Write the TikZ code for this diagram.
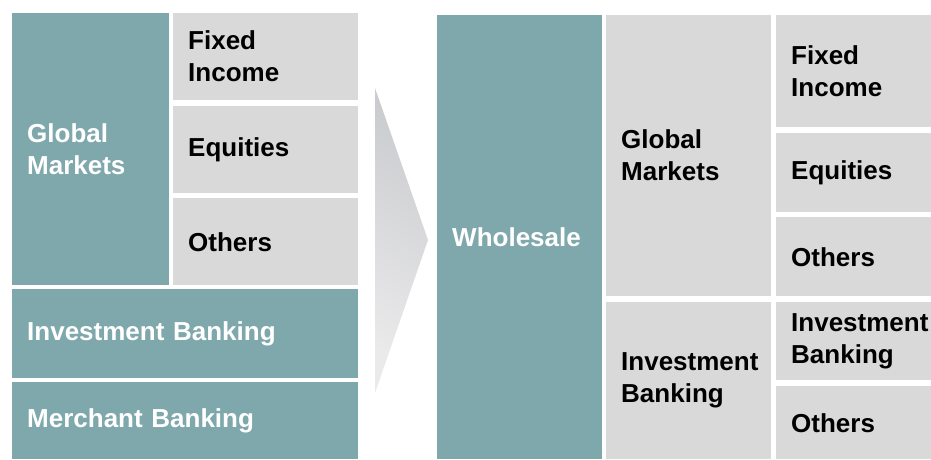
\documentclass[tikz,border=0pt]{standalone}
\usepackage{fontspec}
\setmainfont{Liberation Sans}
\usepackage{tikz}

\definecolor{segteal}{HTML}{7FA8AC}
\definecolor{seggrey}{HTML}{D9D9D9}
\definecolor{arrowdark}{HTML}{CBCCCF}
\definecolor{arrowlight}{HTML}{EAEAEB}

\begin{document}
\begin{tikzpicture}[x=1pt,y=-1pt,
  cell/.style 2 args={anchor=north west, inner xsep=15pt, inner ysep=0pt,
    minimum width=#1pt, minimum height=#2pt, text width=#1pt-30pt, align=left,
    font=\bfseries\fontsize{26}{32}\selectfont},
  tealcell/.style={fill=segteal, text=white},
  greycell/.style={fill=seggrey, text=black}]
\useasboundingbox (0,0) rectangle (931,459);
\clip (0,0) rectangle (931,459);

% old structure
\node[cell={157}{272},tealcell] (lgm) at (12,13) {Global\\Markets};
\node[cell={185}{87},greycell] (lfi) at (173,13) {Fixed\\Income};
\node[cell={185}{87},greycell] (leq) at (173,106) {Equities};
\node[cell={185}{87},greycell] (loth) at (173,198) {Others};
\node[cell={346}{89},tealcell] (libk) at (12,289) {Investment Banking};
\node[cell={346}{77},tealcell] (lmbk) at (12,382) {Merchant Banking};

% transition arrow
\shade[top color=arrowdark, bottom color=arrowlight, shading angle=-30]
  (375,88) -- (428,240) -- (375,393) -- cycle;

% new structure
\node[cell={165}{444},tealcell] (whs) at (437,15) {Wholesale};
\node[cell={165}{281},greycell] (rgm) at (606,15) {Global\\Markets};
\node[cell={165}{157},greycell] (ribk) at (606,302) {Investment\\Banking};
\node[cell={170}{112},greycell] (rfi) at (776,15) {Fixed\\Income};
\node[cell={170}{79},greycell] (req) at (776,133) {Equities};
\node[cell={170}{79},greycell] (roth) at (776,217) {Others};
\node[cell={170}{78},greycell] (rib) at (776,302) {Investment\\Banking};
\node[cell={170}{73},greycell] (roth2) at (776,386) {Others};
\end{tikzpicture}
\end{document}
